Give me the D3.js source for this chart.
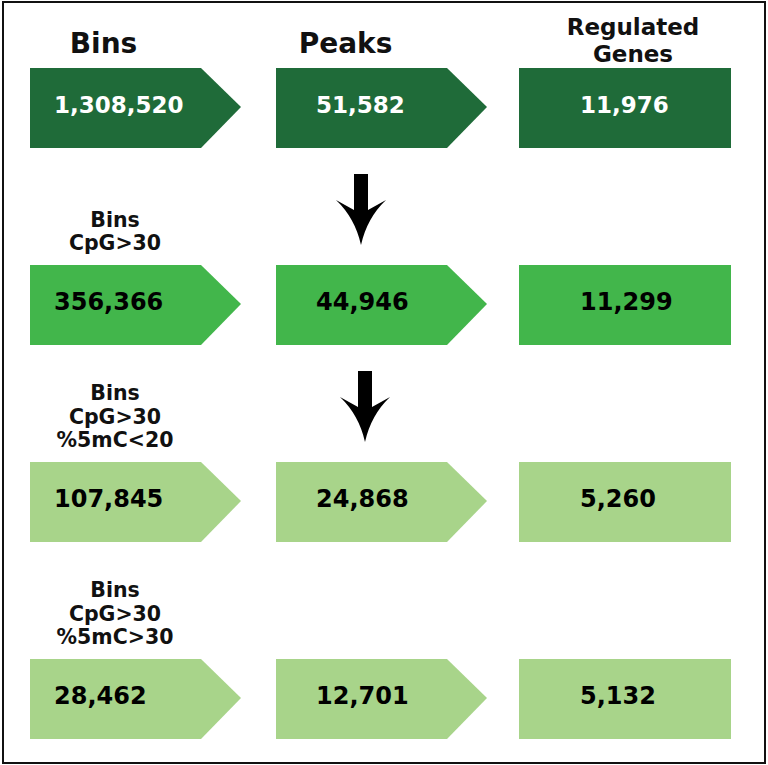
<!DOCTYPE html>
<html>
<head>
<meta charset="utf-8">
<script src="https://cdn.jsdelivr.net/npm/d3@7"></script>
<style>
  body { margin: 0; background: #fff; }
  text { font-family: "DejaVu Sans", sans-serif; }
</style>
</head>
<body>
<svg id="chart" width="768" height="765"></svg>
<script>
// column headers
const columns = ["Bins", "Peaks", "Regulated Genes"];

// filter description for each row (shown above the Bins box)
const rowLabels = [
  [],
  ["Bins", "CpG>30"],
  ["Bins", "CpG>30", "%5mC<20"],
  ["Bins", "CpG>30", "%5mC>30"]
];

// counts per row: bins, peaks, regulated genes
const bins = [1308520, 356366, 107845, 28462];
const peaks = [51582, 44946, 24868, 12701];
const genes = [11976, 11299, 5260, 5132];

const rowColors = ["#1f6b39", "#42b64b", "#a8d48a", "#a8d48a"];
const textColors = ["#ffffff", "#000000", "#000000", "#000000"];

const svg = d3.select("#chart");
const fmt = d3.format(",");

// outer frame
svg.append("rect")
  .attr("x", 3).attr("y", 2)
  .attr("width", 762).attr("height", 761)
  .attr("fill", "none")
  .attr("stroke", "#111")
  .attr("stroke-width", 2);

// scales for rows and columns
const yScale = d3.scaleLinear().domain([0, 3]).range([68, 659]);
const xScale = d3.scaleOrdinal().domain([0, 1, 2]).range([30, 276, 519]);

const boxH = 80;
const chevW = 171;   // rectangular part of the chevrons
const tipW = 40;     // arrow point
const lastW = 212;   // plain box in the last column

// table of cells
const cells = [];
bins.forEach((v, i) => {
  cells.push({row: i, col: 0, value: v});
  cells.push({row: i, col: 1, value: peaks[i]});
  cells.push({row: i, col: 2, value: genes[i]});
});

const textOffset = [24, 40, 61];

const g = svg.append("g");

g.selectAll("path.cell")
  .data(cells)
  .enter()
  .append("path")
  .attr("class", "cell")
  .attr("fill", d => rowColors[d.row])
  .attr("d", d => {
    const x = xScale(d.col), y = yScale(d.row);
    if (d.col < 2) {
      return `M${x},${y}H${x + chevW}L${x + chevW + tipW},${y + boxH / 2 - 1}L${x + chevW},${y + boxH}H${x}Z`;
    }
    return `M${x},${y}H${x + lastW}V${y + boxH}H${x}Z`;
  });

g.selectAll("text.value")
  .data(cells)
  .enter()
  .append("text")
  .attr("class", "value")
  .attr("x", d => xScale(d.col) + textOffset[d.col])
  .attr("y", d => yScale(d.row) + 45)
  .attr("fill", d => textColors[d.row])
  .attr("font-size", d => d.row === 0 ? 23 : 24)
  .style("font-weight", "bold")
  .text(d => fmt(d.value));

// column headers
const headerX = [103.5, 345.5, 633];
columns.forEach((c, i) => {
  const lines = c === "Regulated Genes" ? ["Regulated", "Genes"] : [c];
  const t = svg.append("text")
    .attr("text-anchor", "middle")
    .attr("font-size", lines.length > 1 ? 23 : 28)
    .style("font-weight", "bold")
    .attr("fill", "#111");
  lines.forEach((l, j) => {
    t.append("tspan")
      .attr("x", headerX[i])
      .attr("y", lines.length > 1 ? 35 + j * 27 : 53)
      .text(l);
  });
});

// row filter labels, stacked upward from the box
rowLabels.forEach((lines, i) => {
  const n = lines.length;
  lines.forEach((l, j) => {
    svg.append("text")
      .attr("x", 115)
      .attr("y", yScale(i) - 15 - (n - 1 - j) * 23.5)
      .attr("text-anchor", "middle")
      .attr("font-size", 20.5)
      .style("font-weight", "bold")
      .attr("fill", "#111")
      .text(l);
  });
});

// down arrows between the peaks rows
const arrowRows = [0, 1];
const arrowX = [361, 365];
svg.selectAll("path.arrow")
  .data(arrowRows)
  .enter()
  .append("path")
  .attr("class", "arrow")
  .attr("fill", "#000")
  .attr("d", (r, i) => {
    const cx = arrowX[i];
    const top = yScale(r) + boxH + 26;
    return `M${cx - 7},${top}H${cx + 7}V${top + 36}L${cx + 25},${top + 26}` +
      `Q${cx + 6},${top + 44} ${cx},${top + 71}Q${cx - 6},${top + 44} ${cx - 25},${top + 26}L${cx - 7},${top + 36}Z`;
  });
</script>
</body>
</html>
